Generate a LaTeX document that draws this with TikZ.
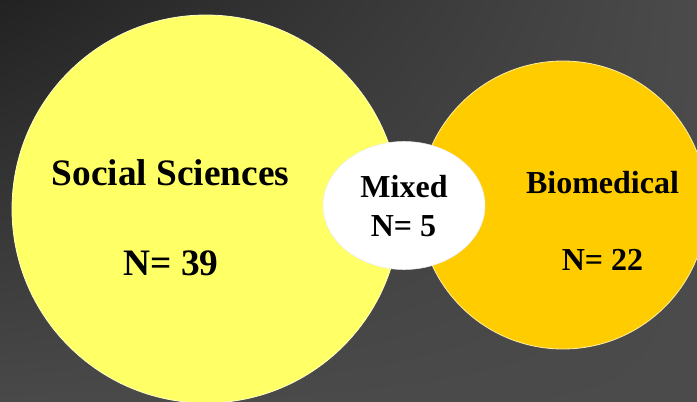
\documentclass[tikz,border=0pt]{standalone}
\usepackage{fontspec}
\setmainfont{Liberation Serif}
\newfontfamily\tnrbold{Liberation Serif Bold}
\usetikzlibrary{shapes.geometric,shadings}
\definecolor{bgdark}{HTML}{222222}
\definecolor{bglight}{HTML}{4B4B4B}
\definecolor{bgleft}{HTML}{494949}
\definecolor{ssyellow}{HTML}{FFFF66}
\definecolor{bmorange}{HTML}{FFCC00}
\tikzset{
  blob/.style={circle, inner sep=0pt, line width=0.6pt},
  bigtxt/.style={anchor=base, inner sep=0pt, font=\tnrbold\fontsize{28}{32}\selectfont},
  midtxt/.style={anchor=base, inner sep=0pt, font=\tnrbold\fontsize{24}{28}\selectfont}
}
\begin{document}
\begin{tikzpicture}[x=0.75pt, y=-0.75pt]
\useasboundingbox (0,0) rectangle (697,401);
\shade[upper left=bgdark, upper right=bglight, lower left=bgleft, lower right=bglight] (0,0) rectangle (697,401);
\begin{scope}
\clip (0,0) rectangle (697,401);
\node[blob, fill=ssyellow, draw=ssyellow!40!white, minimum size=291pt] (ss) at (206,209) {};
\node[blob, fill=bmorange, draw=bmorange!35!white, minimum size=216pt] (bm) at (563,205) {};
\node[ellipse, inner sep=0pt, fill=white, draw=white!85!gray, line width=0.4pt, minimum width=121.5pt, minimum height=96pt] (mx) at (404,205.5) {};
\end{scope}
\node[bigtxt] (sst) at (170.5,185) {Social Sciences};
\node[bigtxt] (ssn) at (171,275) {N= 39};
\node[midtxt] (bmt) at (602.5,193) {Biomedical};
\node[midtxt] (bmn) at (602.5,270) {N= 22};
\node[midtxt] (mxt) at (404,197) {Mixed};
\node[midtxt] (mxn) at (403.5,236) {N= 5};
\end{tikzpicture}
\end{document}
